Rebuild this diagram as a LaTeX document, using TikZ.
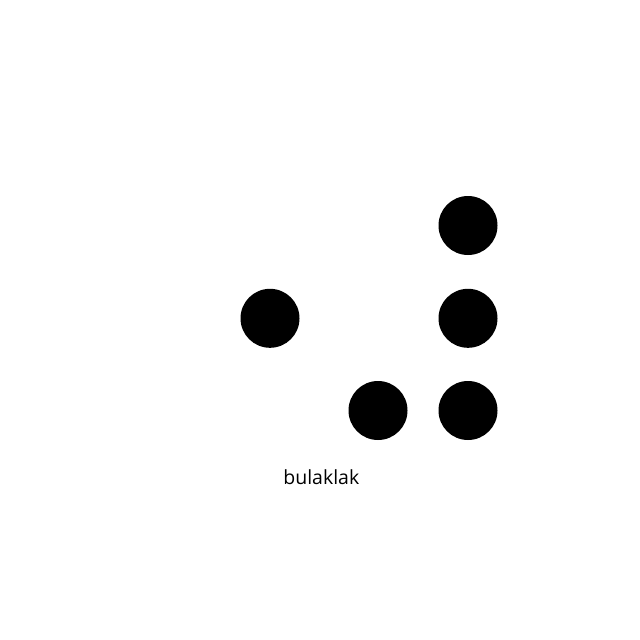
\documentclass[tikz,border=0pt]{standalone}
\usepackage{fontspec}
\setmainfont{Open Sans}
\begin{document}
\begin{tikzpicture}[x=1pt,y=-1pt,
  dot/.style={circle,fill=black,draw=none,minimum size=59pt,inner sep=0pt},
  lbl/.style={font=\fontsize{19.5}{23}\selectfont,inner sep=0pt,anchor=base}]
\useasboundingbox[fill=white] (0,0) rectangle (640,640);
\node[dot] (d1) at (468,225.5) {};
\node[dot] (d2) at (270,318.3) {};
\node[dot] (d3) at (468,318.3) {};
\node[dot] (d4) at (378,410.5) {};
\node[dot] (d5) at (468,410.5) {};
\node[lbl] (t) at (321.3,484.3) {bulaklak};
\end{tikzpicture}
\end{document}
